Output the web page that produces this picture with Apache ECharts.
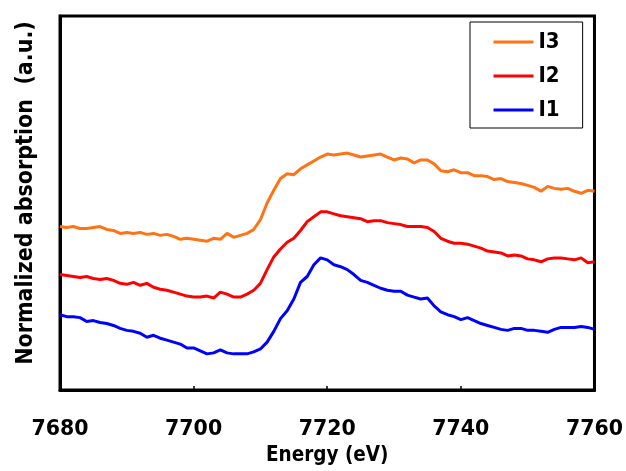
<!DOCTYPE html>
<html>
<head>
<meta charset="utf-8">
<script src="https://cdn.jsdelivr.net/npm/echarts@6/dist/echarts.min.js"></script>
<style>
  html, body { margin: 0; padding: 0; background: #fff; }
  #main { width: 626px; height: 471px; }
</style>
</head>
<body>
<div id="main"></div>
<script>
// energy grid (eV), 1 eV step
const energy = Array.from({ length: 81 }, (_, i) => 7680 + i);
const xTicks = [7680, 7700, 7720, 7740, 7760];

// normalized absorption, curves offset vertically (a.u.)
const i1 = [
  0.77, 0.75, 0.75, 0.74, 0.70, 0.71, 0.69, 0.68, 0.66, 0.63,
  0.61, 0.60, 0.58, 0.54, 0.56, 0.53, 0.51, 0.49, 0.47, 0.43,
  0.43, 0.40, 0.37, 0.38, 0.41, 0.38, 0.37, 0.37, 0.37, 0.39,
  0.42, 0.49, 0.60, 0.73, 0.81, 0.93, 1.10, 1.16, 1.28, 1.35,
  1.33, 1.28, 1.26, 1.23, 1.18, 1.12, 1.10, 1.07, 1.04, 1.02,
  1.01, 1.01, 0.97, 0.95, 0.93, 0.94, 0.86, 0.80, 0.77, 0.75,
  0.72, 0.74, 0.71, 0.68, 0.66, 0.64, 0.62, 0.61, 0.63, 0.63,
  0.61, 0.61, 0.60, 0.59, 0.62, 0.64, 0.64, 0.64, 0.65, 0.64,
  0.62
];
const i2 = [
  1.18, 1.17, 1.16, 1.15, 1.16, 1.14, 1.13, 1.14, 1.12, 1.09,
  1.08, 1.10, 1.07, 1.09, 1.05, 1.03, 1.02, 1.00, 0.98, 0.96,
  0.95, 0.95, 0.96, 0.94, 1.00, 0.98, 0.95, 0.95, 0.98, 1.02,
  1.09, 1.23, 1.36, 1.44, 1.51, 1.55, 1.63, 1.72, 1.77, 1.82,
  1.82, 1.80, 1.78, 1.77, 1.76, 1.75, 1.72, 1.73, 1.73, 1.71,
  1.70, 1.69, 1.67, 1.67, 1.67, 1.66, 1.62, 1.55, 1.52, 1.50,
  1.50, 1.49, 1.47, 1.45, 1.42, 1.41, 1.40, 1.37, 1.38, 1.37,
  1.34, 1.33, 1.31, 1.34, 1.35, 1.35, 1.34, 1.33, 1.35, 1.30,
  1.31
];
const i3 = [
  1.67, 1.66, 1.67, 1.65, 1.65, 1.66, 1.67, 1.64, 1.63, 1.60,
  1.61, 1.60, 1.61, 1.59, 1.60, 1.58, 1.59, 1.57, 1.54, 1.55,
  1.54, 1.53, 1.52, 1.55, 1.54, 1.60, 1.56, 1.58, 1.60, 1.64,
  1.74, 1.91, 2.04, 2.16, 2.21, 2.20, 2.26, 2.30, 2.34, 2.38,
  2.41, 2.40, 2.41, 2.42, 2.40, 2.38, 2.39, 2.40, 2.41, 2.38,
  2.35, 2.37, 2.36, 2.32, 2.35, 2.35, 2.31, 2.24, 2.23, 2.25,
  2.22, 2.22, 2.19, 2.19, 2.18, 2.15, 2.16, 2.13, 2.12, 2.11,
  2.09, 2.07, 2.03, 2.08, 2.06, 2.05, 2.06, 2.03, 2.01, 2.04,
  2.03
];

const font = '"DejaVu Sans", sans-serif';
const narrow = '"DejaVu Sans Condensed", "DejaVu Sans", sans-serif';
const pairs = (vals) => energy.map((e, i) => [e, vals[i]]);

const chart = echarts.init(document.getElementById('main'), null, { renderer: 'canvas' });

const lineSeries = (name, vals, color) => ({
  name: name,
  type: 'line',
  data: pairs(vals),
  symbol: 'none',
  showSymbol: false,
  lineStyle: { width: 3, color: color },
  itemStyle: { color: color },
  z: 3
});

chart.setOption({
  animation: false,
  backgroundColor: '#fff',
  grid: {
    left: 60, top: 16, right: 29, bottom: 73,
    show: true,
    borderColor: '#000',
    borderWidth: 3
  },
  legend: {
    data: ['I3', 'I2', 'I1'],
    orient: 'vertical',
    left: 470,
    top: 22,
    padding: [9, 23, 7, 22],
    itemWidth: 40,
    itemHeight: 22,
    itemGap: 12,
    borderColor: '#000',
    borderWidth: 1,
    backgroundColor: '#fff',
    itemStyle: { opacity: 0 },
    lineStyle: { width: 3 },
    textStyle: {
      fontFamily: narrow,
      fontWeight: 'bold',
      fontSize: 22,
      lineHeight: 22,
      color: '#000'
    }
  },
  xAxis: {
    type: 'value',
    min: xTicks[0],
    max: xTicks[xTicks.length - 1],
    interval: 20,
    name: 'Energy (eV)',
    nameLocation: 'middle',
    nameGap: 49,
    nameTextStyle: {
      fontFamily: narrow,
      fontWeight: 'bold',
      fontSize: 20.5,
      color: '#000'
    },
    axisLine: { show: true, lineStyle: { color: '#000', width: 3 } },
    axisTick: { show: true, inside: true, length: 4, lineStyle: { color: '#000', width: 1.5 } },
    splitLine: { show: false },
    axisLabel: {
      margin: 29,
      formatter: (v) => String(v),
      fontFamily: font,
      fontWeight: 'bold',
      fontSize: 20.5,
      color: '#000'
    }
  },
  yAxis: {
    type: 'value',
    min: 0,
    max: 3.82,
    name: 'Normalized absorption  (a.u.)',
    nameLocation: 'middle',
    nameGap: 22,
    nameTextStyle: {
      fontFamily: narrow,
      fontWeight: 'bold',
      fontSize: 23,
      color: '#000',
      padding: [0, 0, 0, 20]
    },
    axisLine: { show: true, lineStyle: { color: '#000', width: 3 } },
    axisTick: { show: false },
    axisLabel: { show: false },
    splitLine: { show: false }
  },
  series: [
    lineSeries('I1', i1, '#0000ff'),
    lineSeries('I2', i2, '#ff0000'),
    lineSeries('I3', i3, '#ff7314')
  ]
});
</script>
</body>
</html>
